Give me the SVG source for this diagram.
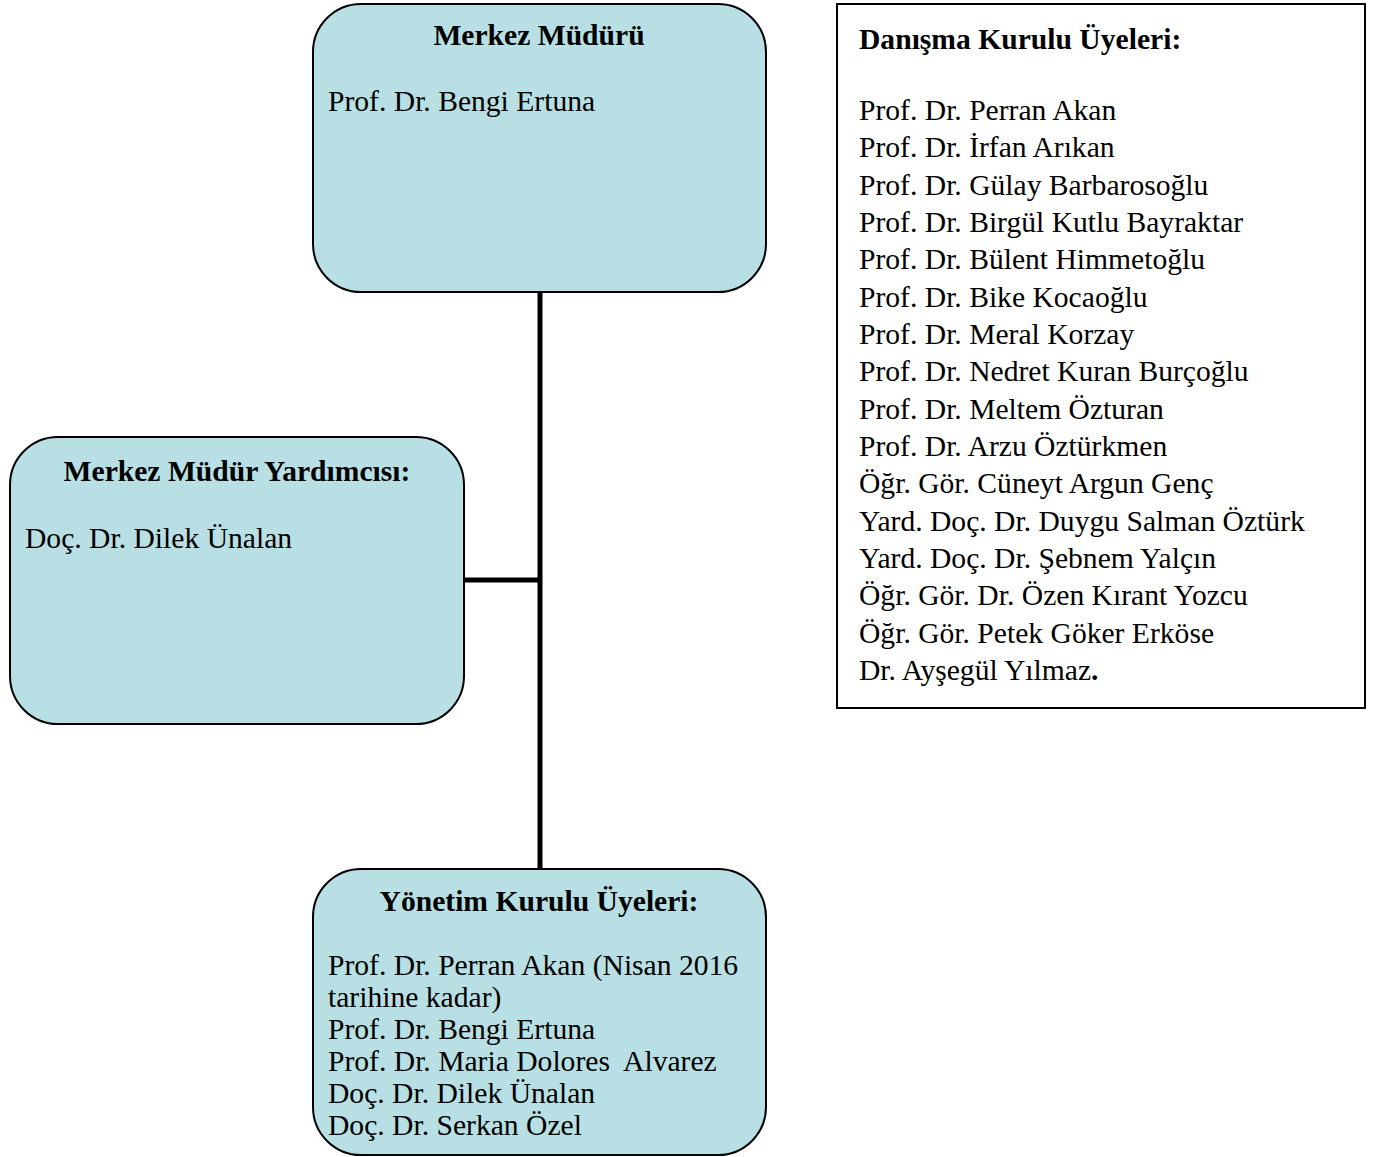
<svg xmlns="http://www.w3.org/2000/svg" width="1378" height="1157" viewBox="0 0 1378 1157">
<style>
.box{fill:#B8DFE3;stroke:#000;stroke-width:2}
.plain{fill:#fff;stroke:#000;stroke-width:2}
.t{font-family:"Liberation Serif","Times New Roman",serif;font-size:29.6px;fill:#000}
.b{font-weight:bold}
.c{text-anchor:middle}
.conn{stroke:#000;stroke-width:5;fill:none}
</style>
<rect width="1378" height="1157" fill="#fff"/>
<g id="connectors">
<line class="conn" x1="540" y1="292" x2="540" y2="870"/>
<line class="conn" x1="463" y1="580" x2="542" y2="580"/>
</g>
<g id="merkez-muduru">
<rect class="box" x="313" y="4" width="453" height="288" rx="48" ry="48"/>
<text class="t b c" x="539" y="45">Merkez Müdürü</text>
<text class="t" x="328" y="111">Prof. Dr. Bengi Ertuna</text>
</g>
<g id="mudur-yardimcisi">
<rect class="box" x="10" y="437" width="454" height="287" rx="48" ry="48"/>
<text class="t b c" x="237" y="481">Merkez Müdür Yardımcısı:</text>
<text class="t" x="25" y="548">Doç. Dr. Dilek Ünalan</text>
</g>
<g id="yonetim-kurulu">
<rect class="box" x="313" y="869" width="453" height="286" rx="48" ry="48"/>
<text class="t b c" x="539" y="911">Yönetim Kurulu Üyeleri:</text>
<text class="t" x="328" y="975">Prof. Dr. Perran Akan (Nisan 2016</text>
<text class="t" x="328" y="1007">tarihine kadar)</text>
<text class="t" x="328" y="1039">Prof. Dr. Bengi Ertuna</text>
<text class="t" x="328" y="1071" xml:space="preserve">Prof. Dr. Maria Dolores  Alvarez</text>
<text class="t" x="328" y="1103">Doç. Dr. Dilek Ünalan</text>
<text class="t" x="328" y="1135">Doç. Dr. Serkan Özel</text>
</g>
<g id="danisma-kurulu">
<rect class="plain" x="837" y="4" width="528" height="704"/>
<text class="t b" x="859" y="49">Danışma Kurulu Üyeleri:</text>
<text class="t" x="859" y="120">Prof. Dr. Perran Akan</text>
<text class="t" x="859" y="157.3">Prof. Dr. İrfan Arıkan</text>
<text class="t" x="859" y="194.7">Prof. Dr. Gülay Barbarosoğlu</text>
<text class="t" x="859" y="232">Prof. Dr. Birgül Kutlu Bayraktar</text>
<text class="t" x="859" y="269.3">Prof. Dr. Bülent Himmetoğlu</text>
<text class="t" x="859" y="306.7">Prof. Dr. Bike Kocaoğlu</text>
<text class="t" x="859" y="344">Prof. Dr. Meral Korzay</text>
<text class="t" x="859" y="381.3">Prof. Dr. Nedret Kuran Burçoğlu</text>
<text class="t" x="859" y="418.7">Prof. Dr. Meltem Özturan</text>
<text class="t" x="859" y="456">Prof. Dr. Arzu Öztürkmen</text>
<text class="t" x="859" y="493.3">Öğr. Gör. Cüneyt Argun Genç</text>
<text class="t" x="859" y="530.7">Yard. Doç. Dr. Duygu Salman Öztürk</text>
<text class="t" x="859" y="568">Yard. Doç. Dr. Şebnem Yalçın</text>
<text class="t" x="859" y="605.3">Öğr. Gör. Dr. Özen Kırant Yozcu</text>
<text class="t" x="859" y="642.7">Öğr. Gör. Petek Göker Erköse</text>
<text class="t" x="859" y="680">Dr. Ayşegül Yılmaz<tspan class="b">.</tspan></text>
</g>
</svg>
